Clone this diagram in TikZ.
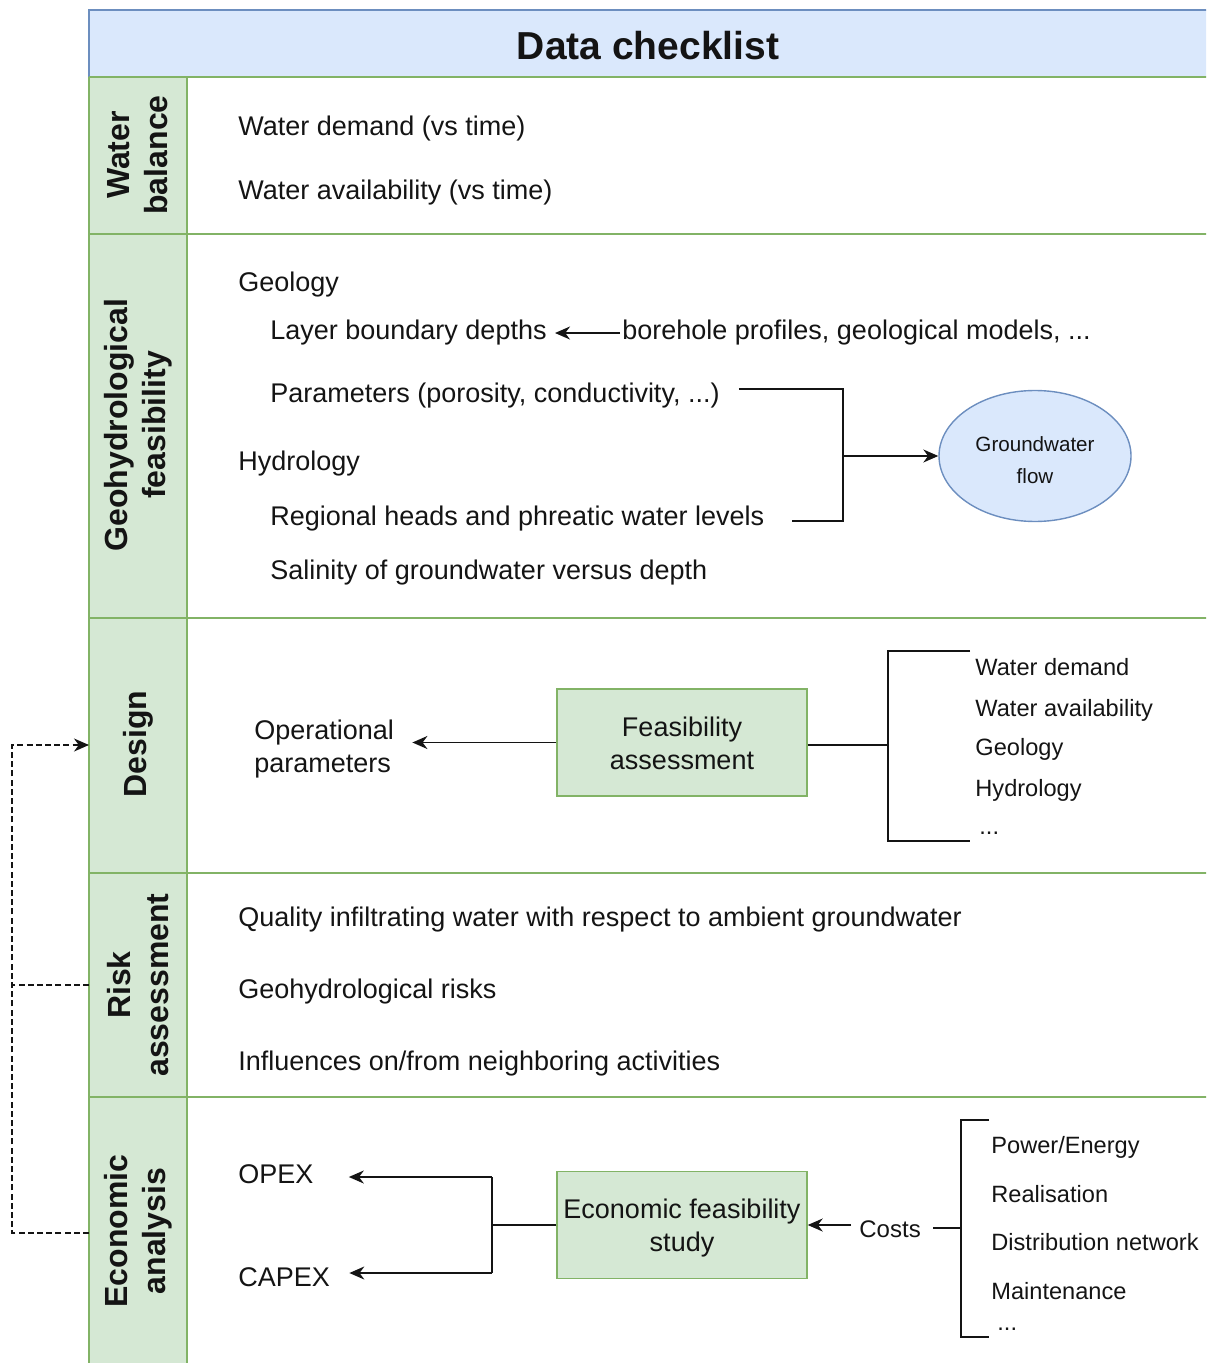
\documentclass[tikz,border=0pt]{standalone}
\usepackage{fontspec}
\setmainfont{Liberation Sans}
\usetikzlibrary{arrows.meta,shapes.geometric}
\definecolor{hdrfill}{HTML}{DAE8FC}
\definecolor{hdrline}{HTML}{6C8EBF}
\definecolor{grnfill}{HTML}{D5E8D4}
\definecolor{grnline}{HTML}{82B366}
\definecolor{ink}{HTML}{141414}
\begin{document}
\begin{tikzpicture}[x=0.5pt,y=-0.5pt,
  txt/.style={anchor=base west, inner sep=0pt, text=ink, font=\fontsize{13.5}{16}\selectfont},
  lst/.style={anchor=base west, inner sep=0pt, text=ink, font=\fontsize{11.8}{14}\selectfont},
  side/.style={rotate=90, align=center, inner sep=0pt, text=ink, font=\fontsize{16}{19}\selectfont\bfseries},
  box/.style={draw=grnline, fill=grnfill, line width=0.7pt, minimum width=125pt, minimum height=53.5pt,
    align=center, inner sep=0pt, text=ink, font=\fontsize{13.5}{16.5}\selectfont},
  sep/.style={draw=grnline, line width=0.8pt},
  conn/.style={draw=ink, line width=0.85pt},
  tip/.style={-{Stealth[length=7.5pt,width=6.5pt,inset=2.4pt]}},
  arr/.style={conn, tip},
  fbline/.style={draw=ink, line width=0.85pt, dash pattern=on 3pt off 1.6pt},
  fbarr/.style={fbline, tip}
]
\useasboundingbox (0,0) rectangle (1206,1363);
\clip (0,0) rectangle (1206,1363);

% table frame: header band, label column and row separators
\fill[hdrfill] (89,10) rectangle (1230,77);
\fill[grnfill] (89,77) rectangle (187,1390);
\draw[hdrline, line width=0.8pt] (1230,10) -- (89,10) -- (89,77);
\foreach \yy in {77,234,618,873,1097}
  \draw[sep] (89,\yy) -- (1230,\yy);
\draw[sep] (89,77) -- (89,1390);
\draw[sep] (187,77) -- (187,1390);

\node[anchor=base, inner sep=0pt, text=ink, font=\fontsize{19.5}{22}\selectfont\bfseries] (title) at (648,60) {Data checklist};

% row labels
\node[side] (lwb)  at (138,155)  {Water\\balance};
\node[side] (lgeo) at (138,425)  {Geohydrological\\feasibility};
\node[side] (ldes) at (138,744)  {Design};
\node[side] (lrsk) at (138,985)  {Risk\\assessment};
\node[side] (leco) at (138,1231) {Economic\\analysis};

% water balance
\node[txt] (wd) at (238,136) {Water demand (vs time)};
\node[txt] (wa) at (238,200) {Water availability (vs time)};

% geohydrological feasibility
\node[txt] (geo) at (238,292) {Geology};
\node[txt] (lbd) at (270,340) {Layer boundary depths};
\node[txt] (bh)  at (622,340) {borehole profiles, geological models, ...};
\node[txt] (par) at (270,403) {Parameters (porosity, conductivity, ...)};
\node[txt] (hyd) at (238,470) {Hydrology};
\node[txt] (reg) at (270,525) {Regional heads and phreatic water levels};
\node[txt] (sal) at (270,579) {Salinity of groundwater versus depth};
\node[ellipse, draw=hdrline, fill=hdrfill, line width=0.7pt, minimum width=96pt, minimum height=65.5pt,
  inner sep=0pt, align=center, text=ink, font=\fontsize{10.3}{16}\selectfont] (gw) at (1035,456)
  {\rule{0pt}{11.5pt}Groundwater\\flow};

\draw[arr] ([xshift=-1pt]bh.west) -- ([xshift=4pt]lbd.east);
\coordinate (ptop) at (843,389);
\coordinate (pmid) at (843,456);
\coordinate (pbot) at (843,521);
\draw[conn] ([xshift=9.5pt]ptop -| par.east) -- (ptop) -- (pbot) -- ([xshift=13.5pt]pbot -| reg.east);
\draw[arr] (pmid) -- (gw.west);

% design
\node[box] (fa) at (682,742.5) {\rule{0pt}{11pt}Feasibility\\assessment};
\node[anchor=west, inner sep=0pt, align=left, text=ink, font=\fontsize{13.5}{16.5}\selectfont] (op) at (254,749.5) {Operational\\parameters};
\draw[arr] (fa.west) -- ([xshift=9pt]fa.west -| op.east);
\coordinate (dbr) at (888,745);
\coordinate (dtop) at (888,651);
\coordinate (dbot) at (888,841);
\draw[conn] (fa.east |- dbr) -- (dbr);
\draw[conn] ([xshift=41pt]dtop) -- (dtop) -- (dbot) -- ([xshift=41pt]dbot);
\node[lst] (d1) at (975,675) {Water demand};
\node[lst] (d2) at (975,716) {Water availability};
\node[lst] (d3) at (975,755) {Geology};
\node[lst] (d4) at (975,796) {Hydrology};
\node[lst] (d5) at (979,834) {...};

% risk assessment
\node[txt] (r1) at (238,926)  {Quality infiltrating water with respect to ambient groundwater};
\node[txt] (r2) at (238,998)  {Geohydrological risks};
\node[txt] (r3) at (238,1070) {Influences on/from neighboring activities};

% economic analysis
\node[box] (ebox) at (682,1225) {\rule{0pt}{13pt}Economic feasibility\\study};
\node[txt] (opex)  at (238,1183) {OPEX};
\node[txt] (capex) at (238,1286) {CAPEX};
\coordinate (ejt) at (492,1177);
\coordinate (ejb) at (492,1273);
\draw[arr] (ejt) -- ([xshift=17.5pt]ejt -| opex.east);
\draw[arr] (ejb) -- ([xshift=9.5pt]ejb -| capex.east);
\draw[conn] (ejt) -- (ejb);
\draw[conn] (ebox.west) -- (ebox.west -| ejt);
\node[anchor=base west, inner sep=0pt, text=ink, font=\fontsize{12}{14}\selectfont] (costs) at (859,1237) {Costs};
\draw[arr] ([xshift=-4pt]costs.west |- ebox.east) -- (ebox.east);
\coordinate (ebr) at (961,1228);
\coordinate (etop) at (961,1120);
\coordinate (ebot) at (961,1337);
\draw[conn] ([xshift=6pt]costs.east |- ebr) -- (ebr);
\draw[conn] ([xshift=14pt]etop) -- (etop) -- (ebot) -- ([xshift=14pt]ebot);
\node[lst] (c1) at (991,1153) {Power/Energy};
\node[lst] (c2) at (991,1202) {Realisation};
\node[lst] (c3) at (991,1250) {Distribution network};
\node[lst] (c4) at (991,1299) {Maintenance};
\node[lst] (c5) at (997,1330) {...};

% feedback loop from risk and economics back to design
\coordinate (fdes) at (89,745);
\coordinate (frsk) at (89,985);
\coordinate (feco) at (89,1233);
\coordinate (fleft) at (12,745);
\draw[fbarr] (feco) -- (feco -| fleft) -- (fleft) -- (fdes);
\draw[fbline] (frsk) -- (frsk -| fleft);
\end{tikzpicture}
\end{document}
